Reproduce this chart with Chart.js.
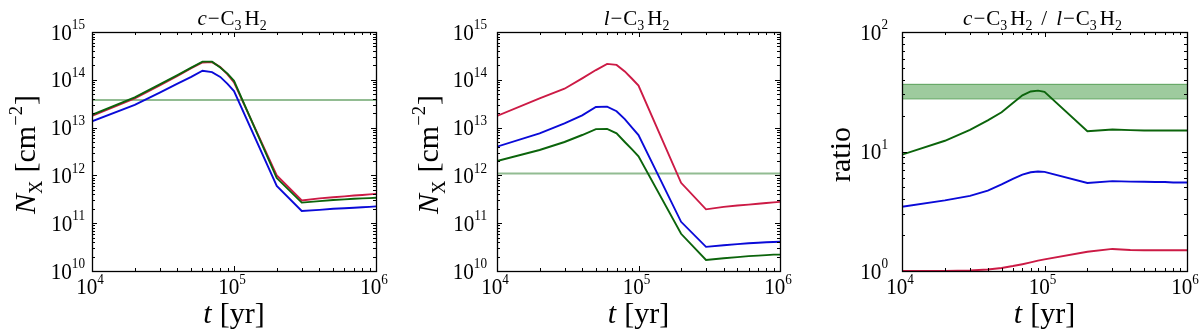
<!DOCTYPE html>
<html><head><meta charset="utf-8">
<script src="https://cdn.jsdelivr.net/npm/chart.js@4/dist/chart.umd.min.js"></script>
<style>
html,body{margin:0;padding:0;background:#fff;}
#wrap{position:relative;width:1200px;height:336px;background:#fff;}
.p{position:absolute;top:0;width:400px;height:336px;}
canvas{display:block;}
</style></head><body>
<div id="wrap">
<div class="p" style="left:0"><canvas id="c1" width="400" height="336"></canvas></div>
<div class="p" style="left:400px"><canvas id="c2" width="400" height="336"></canvas></div>
<div class="p" style="left:800px"><canvas id="c3" width="400" height="336"></canvas></div>
</div>
<script>
// ---- data ----
const times = [1e4,2e4,3e4,4e4,5e4,6e4,7e4,8e4,9e4,1e5,2e5,3e5,4e5,5e5,6e5,7e5,8e5,9e5,1e6];

// c-C3H2 column densities [cm^-2]
const cRed   = [1.75e13,4.1e13,7.6e13,1.2e14,1.75e14,2.3e14,2.35e14,1.85e14,1.3e14,8.8e13,1.0e12,3.0e11,3.3e11,3.5e11,3.65e11,3.8e11,3.9e11,4.0e11,4.1e11];
const cGreen = [1.85e13,4.3e13,8.0e13,1.25e14,1.8e14,2.4e14,2.4e14,1.8e14,1.35e14,9.5e13,8.8e11,2.7e11,2.9e11,3.05e11,3.15e11,3.25e11,3.3e11,3.35e11,3.4e11];
const cBlue  = [1.35e13,3.0e13,5.4e13,8.3e13,1.15e14,1.55e14,1.45e14,1.15e14,8.2e13,5.8e13,6.0e11,1.8e11,1.9e11,2.0e11,2.05e11,2.1e11,2.15e11,2.2e11,2.25e11];
const cObs = 3.8e13;

// l-C3H2 column densities [cm^-2]
const lRed   = [1.75e13,4.1e13,6.5e13,1.07e14,1.6e14,2.15e14,2.05e14,1.5e14,1.05e14,7.6e13,7.0e11,1.95e11,2.2e11,2.35e11,2.45e11,2.55e11,2.65e11,2.72e11,2.8e11];
const lBlue  = [4.0e12,7.6e12,1.23e13,1.8e13,2.7e13,2.75e13,2.2e13,1.5e13,1.0e13,7.0e12,1.07e11,3.2e10,3.45e10,3.65e10,3.8e10,3.9e10,4.0e10,4.05e10,4.1e10];
const lGreen = [2.0e12,3.4e12,5.0e12,7.0e12,9.3e12,9.4e12,7.6e12,5.0e12,3.5e12,2.5e12,6.0e10,1.7e10,1.85e10,1.95e10,2.05e10,2.1e10,2.15e10,2.2e10,2.2e10];
const lObs = 1.1e12;

// ratio c/l
const rRed   = [1.0,1.0,1.01,1.03,1.06,1.1,1.14,1.18,1.22,1.25,1.45,1.53,1.5,1.49,1.49,1.49,1.49,1.49,1.49];
const rBlue  = [3.45,3.9,4.25,4.7,5.3,5.9,6.4,6.7,6.8,6.75,5.45,5.65,5.6,5.58,5.55,5.55,5.5,5.5,5.5];
const rGreen = [9.4,12.3,15.2,18.2,21.3,25.5,29.5,31.8,32.3,31.6,14.8,15.3,15.1,15.0,15.0,15.0,15.0,15.0,15.0];
const rObsLow = 27.5, rObsHigh = 36.5;

// tick exponents
const xTickExps = [4,5,6];
const nTickExps = [10,11,12,13,14,15];
const rTickExps = [0,1,2];

// ---- styles ----
const RED = '#cc1a45', BLUE = '#0a0ad8', GREEN = '#0b640b';
const FONT = '"Liberation Serif", "DejaVu Serif", serif';

function pts(ys){ return times.map((t,i)=>({x:t,y:ys[i]})); }
function flat(v){ return [{x:times[0],y:v},{x:times[times.length-1],y:v}]; }
function line(ys,c){ return {data:pts(ys),borderColor:c,borderWidth:1.9,pointRadius:0,tension:0,fill:false}; }

function partFont(p,size){ const sz = p.s ? size*(p.r||0.66) : size; return (p.it?'italic ':'')+(p.b?'bold ':'')+sz.toFixed(1)+'px '+FONT; }
function measure(ctx,parts,size){ let w=0; for(const p of parts){ ctx.font=partFont(p,size); w+=(p.g||0)+ctx.measureText(p.t).width; } return w; }
function drawRich(ctx,parts,x,y,size,align,sx,rot){
  ctx.save(); ctx.translate(x,y); ctx.scale(sx,1); if(rot) ctx.rotate(-Math.PI/2);
  const w=measure(ctx,parts,size);
  let cx = align==='center' ? -w/2 : (align==='right' ? -w : 0);
  ctx.textAlign='left'; ctx.textBaseline='alphabetic'; ctx.fillStyle='#000';
  for(const p of parts){
    cx += p.g||0; ctx.font=partFont(p,size);
    const dy = p.s==='sup' ? -(p.up||0.43)*size : (p.s==='sub' ? 0.24*size : 0);
    ctx.fillText(p.t,cx,dy); cx+=ctx.measureText(p.t).width;
  }
  ctx.restore();
}
function pow10(e){ return [{t:'10'},{t:String(e),s:'sup',r:0.62,up:0.45}]; }

const framePlugin = {
  id:'frame',
  afterDraw(chart,args,opts){
    const ctx=chart.ctx, a=chart.chartArea, xs=chart.scales.x, ys=chart.scales.y;
    ctx.save();
    ctx.strokeStyle='#000'; ctx.lineWidth=1;
    const MAJ=5, MIN=3;
    const xexps=opts.xExps, yexps=opts.yExps;
    ctx.beginPath();
    for(let e=xexps[0]; e<=xexps[xexps.length-1]; e++){
      for(let k=1;k<=9;k++){
        const v=k*Math.pow(10,e); if(v>xs.max*1.0001) break;
        const px=Math.round(xs.getPixelForValue(v))+0.5, L=k===1?MAJ:MIN;
        ctx.moveTo(px,a.bottom); ctx.lineTo(px,a.bottom-L);
        ctx.moveTo(px,a.top); ctx.lineTo(px,a.top+L);
      }
    }
    for(let e=yexps[0]; e<=yexps[yexps.length-1]; e++){
      for(let k=1;k<=9;k++){
        const v=k*Math.pow(10,e); if(v>ys.max*1.0001) break;
        const py=Math.round(ys.getPixelForValue(v))+0.5, L=k===1?MAJ:MIN;
        ctx.moveTo(a.left,py); ctx.lineTo(a.left+L,py);
        ctx.moveTo(a.right,py); ctx.lineTo(a.right-L,py);
      }
    }
    ctx.stroke();
    ctx.lineWidth=1.3;
    ctx.strokeRect(Math.round(a.left)+0.5,Math.round(a.top)+0.5,Math.round(a.right-a.left),Math.round(a.bottom-a.top));
    // tick labels
    for(const e of xexps){ drawRich(ctx,pow10(e),xs.getPixelForValue(Math.pow(10,e))-2,a.bottom+23,23,'center',0.92); }
    for(const e of yexps){ drawRich(ctx,pow10(e),a.left-opts.yLabGap,ys.getPixelForValue(Math.pow(10,e))+7.5,23,'right',0.92); }
    // axis titles
    drawRich(ctx,[{t:'t',it:1},{t:'[yr]',g:8}],(a.left+a.right)/2,a.bottom+52,30,'center',1);
    drawRich(ctx,opts.yTitle,a.left+opts.yTitleX,(a.top+a.bottom)/2+3,30,'center',1,true);
    // panel title
    drawRich(ctx,opts.title,(a.left+a.right)/2-2,25,21,'center',1);
    ctx.restore();
  }
};

const nTitle=[{t:'N',it:1},{t:'X',s:'sub',r:0.62},{t:'[cm',g:8},{t:'−2',s:'sup',r:0.62,up:0.42},{t:']',g:1}];
const cName=[{t:'c',it:1},{t:'−',g:1},{t:'C',g:1},{t:'3',s:'sub'},{t:'H',g:3},{t:'2',s:'sub'}];
const lName=[{t:'l',it:1},{t:'−',g:1},{t:'C',g:1},{t:'3',s:'sub'},{t:'H',g:3},{t:'2',s:'sub'}];

function make(id,datasets,ymin,ymax,pad,frameOpts){
  new Chart(document.getElementById(id),{
    type:'line',
    data:{datasets},
    options:{
      responsive:false, animation:false,
      layout:{padding:pad},
      plugins:{legend:{display:false},tooltip:{enabled:false},frame:frameOpts},
      scales:{
        x:{type:'logarithmic',min:1e4,max:1e6,display:false},
        y:{type:'logarithmic',min:ymin,max:ymax,display:false}
      }
    },
    plugins:[framePlugin]
  });
}

const obsLine = v => ({data:flat(v),borderColor:'rgba(110,165,110,0.75)',borderWidth:2,pointRadius:0,fill:false});

make('c1',[line(cGreen,GREEN),line(cRed,RED),line(cBlue,BLUE),obsLine(cObs)],1e10,1e15,
  {left:92,right:24,top:32,bottom:65},
  {xExps:xTickExps,yExps:nTickExps,yLabGap:7,yTitle:nTitle,yTitleX:-57,title:cName});

make('c2',[line(lGreen,GREEN),line(lBlue,BLUE),line(lRed,RED),obsLine(lObs)],1e10,1e15,
  {left:97,right:20,top:32,bottom:65},
  {xExps:xTickExps,yExps:nTickExps,yLabGap:10,yTitle:nTitle,yTitleX:-59,title:lName});

make('c3',[line(rGreen,GREEN),line(rBlue,BLUE),line(rRed,RED),
  {data:flat(rObsHigh),borderColor:'rgba(40,130,40,0.55)',borderWidth:1.2,pointRadius:0,fill:'+1',backgroundColor:'rgba(40,140,40,0.45)'},
  {data:flat(rObsLow),borderColor:'rgba(40,130,40,0.55)',borderWidth:1.2,pointRadius:0,fill:false}],1,100,
  {left:102,right:13,top:32,bottom:65},
  {xExps:xTickExps,yExps:rTickExps,yLabGap:14,yTitle:[{t:'ratio'}],yTitleX:-52,
   title:[...cName,{t:'/',g:9},...lName.map((p,i)=>i===0?Object.assign({},p,{g:9}):p)]});
</script>
</body></html>
